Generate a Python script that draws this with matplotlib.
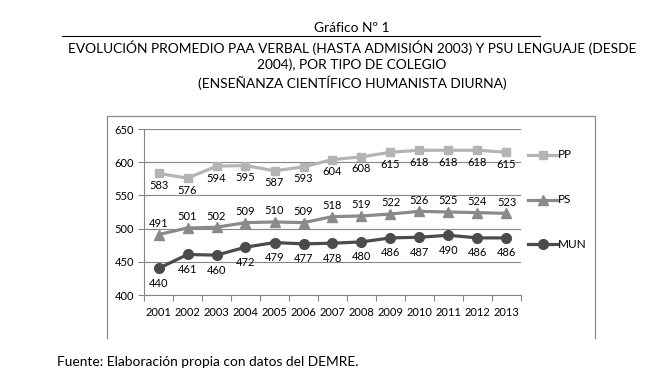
import matplotlib
matplotlib.use("Agg")
import matplotlib.pyplot as plt
from matplotlib.lines import Line2D

years = ["2001", "2002", "2003", "2004", "2005", "2006", "2007",
         "2008", "2009", "2010", "2011", "2012", "2013"]
pp = [583, 576, 594, 595, 587, 593, 604, 608, 615, 618, 618, 618, 615]
ps = [491, 501, 502, 509, 510, 509, 518, 519, 522, 526, 525, 524, 523]
mun = [440, 461, 460, 472, 479, 477, 478, 480, 486, 487, 490, 486, 486]
series_names = ["PP", "PS", "MUN"]
yticks = [400, 450, 500, 550, 600, 650]

title_lines = ["Gráfico Nº 1",
               "EVOLUCIÓN PROMEDIO PAA VERBAL (HASTA ADMISIÓN 2003) Y PSU LENGUAJE (DESDE",
               "2004), POR TIPO DE COLEGIO",
               "(ENSEÑANZA CIENTÍFICO HUMANISTA DIURNA)"]
source = "Fuente: Elaboración propia con datos del DEMRE."

FONT = ["Lato", "DejaVu Sans"]
plt.rcParams["font.family"] = FONT

W, H = 665, 390
fig = plt.figure(figsize=(W / 100, H / 100), dpi=100)

def fx(px):
    return px / W

def fy(py):
    return 1 - py / H

# plot area
L, R, T, B = 144, 521, 129, 295
ax = fig.add_axes([fx(L), fy(B), fx(R) - fx(L), fy(T) - fy(B)])

x = list(range(len(years)))
styles = [
    (pp, "#b4b4b4", "s", 6.0, -12),
    (ps, "#8a8a8a", "^", 7.0, 11),
    (mun, "#4b4b4b", "o", 7.0, -15),
]
tick_fs = 8.0
for (vals, col, mk, ms, off) in styles:
    ax.plot(x, vals, color=col, lw=2.3, marker=mk, ms=ms, mec=col, mfc=col,
            zorder=3, solid_joinstyle="round")
    for xi, v in zip(x, vals):
        ax.annotate(str(v), (xi, v), xytext=(0, off * 0.72), textcoords="offset points",
                    ha="center", va="center", fontsize=tick_fs, color="#000000",
                    zorder=4)

ax.set_xlim(-0.5, len(years) - 0.5)
ax.set_ylim(400, 650)
ax.set_yticks(yticks)
ax.set_yticklabels([str(t) for t in yticks])
ax.set_xticks(x)
ax.set_xticklabels(years)
ax.set_xticks([i - 0.5 for i in range(len(years) + 1)], minor=True)
ax.tick_params(axis="x", which="major", length=0, pad=9, labelsize=tick_fs, colors="#000000")
ax.tick_params(axis="x", which="minor", length=4, width=0.8, color="#868686", direction="out")
ax.tick_params(axis="y", which="major", length=4, width=0.8, color="#868686", direction="out",
               pad=3, labelsize=tick_fs, labelcolor="#000000")
for s in ["top", "right"]:
    ax.spines[s].set_visible(False)
for s in ["left", "bottom"]:
    ax.spines[s].set_color("#868686")
    ax.spines[s].set_linewidth(0.8)
ax.grid(axis="y", color="#868686", lw=0.8)
ax.set_axisbelow(True)
ax.patch.set_alpha(0)

# chart frame (bottom edge cropped)
fc = "#8a8a8a"
fig.add_artist(Line2D([fx(107), fx(107), fx(595), fx(595)],
                      [fy(338), fy(116), fy(116), fy(338)], color=fc, lw=0.9,
                      transform=fig.transFigure))

# legend
leg_y = [155, 200, 244]
for (vals, col, mk, ms, off), name, ly in zip(styles, series_names, leg_y):
    fig.add_artist(Line2D([fx(528), fx(557)], [fy(ly), fy(ly)], color=col, lw=2.3,
                          transform=fig.transFigure))
    fig.add_artist(Line2D([fx(542.5)], [fy(ly)], color=col, marker=mk, ms=ms, mec=col,
                          mfc=col, transform=fig.transFigure))
    fig.text(fx(558), fy(ly), name, ha="left", va="center", fontsize=tick_fs + 0.5,
             color="#000000")

# titles
title_fs = 9.9
ys = [28, 48, 65, 83]
for t, yy in zip(title_lines, ys):
    fig.text(fx(352), fy(yy), t, ha="center", va="center", fontsize=title_fs, color="#000000")
fig.add_artist(Line2D([fx(62), fx(540)], [fy(36), fy(36)], color="#000000", lw=0.8,
                      transform=fig.transFigure))
fig.text(fx(57), fy(362), source, ha="left", va="center", fontsize=title_fs, color="#000000")

fig.savefig("out.png", dpi=100, facecolor="white")
